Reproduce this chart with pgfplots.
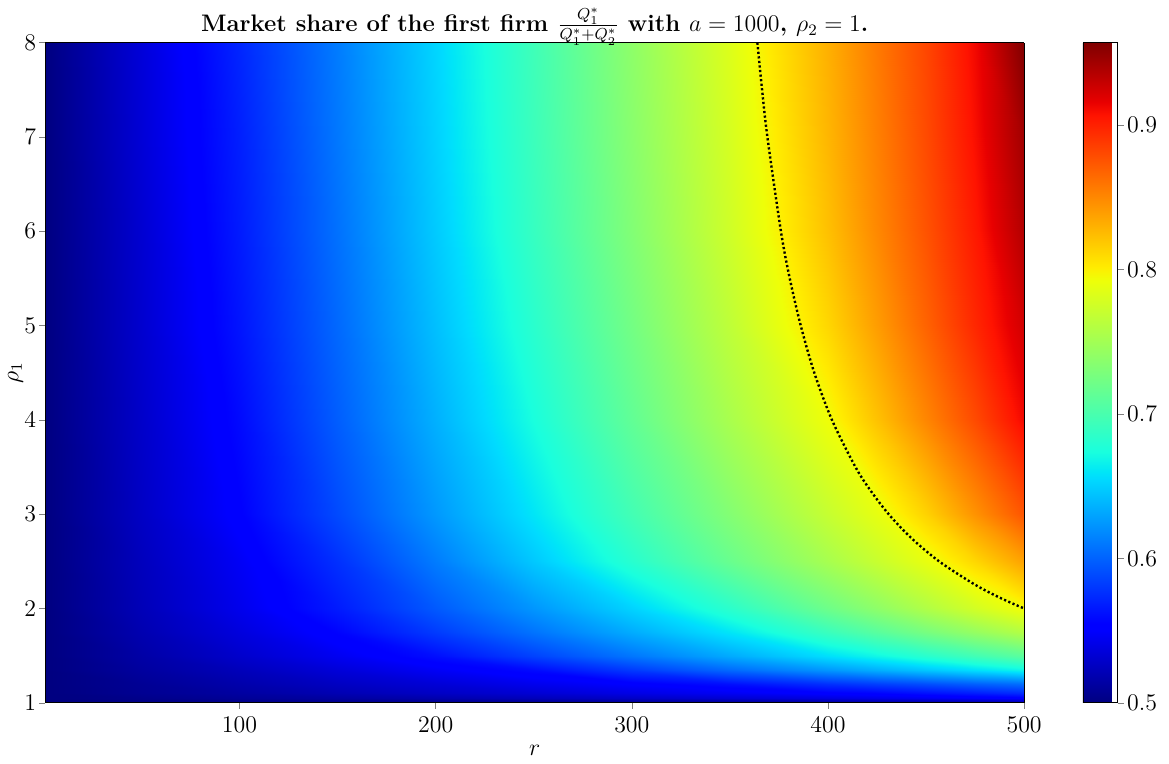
\documentclass[12pt,border=0pt]{standalone}
\usepackage{pgfplots}
\pgfplotsset{compat=1.18}
\begin{document}
\begin{tikzpicture}
\begin{axis}[
  view={0}{90},
  scale only axis, width=491.5pt, height=331.5pt,
  xmin=1, xmax=500, ymin=1, ymax=8,
  xtick={100,200,300,400,500}, ytick={1,2,3,4,5,6,7,8},
  tick pos=left, tick align=outside, major tick length=3pt,
  xlabel={$r$}, ylabel={$\rho_1$},
  ylabel shift=-5pt, xlabel shift=-2pt,
  yticklabel style={inner xsep=1.5pt},
  title={\textbf{Market share of the first firm $\frac{Q_1^*}{Q_1^*+Q_2^*}$ with $a=1000$, $\rho_2=1$.}},
  title style={yshift=-11.5pt},
  colormap={mjet}{rgb255(0pt)=(0,0,128); rgb255(11pt)=(0,0,255); rgb255(12pt)=(0,0,255); rgb255(34pt)=(0,219,255); rgb255(35pt)=(0,230,247); rgb255(38pt)=(25,255,222); rgb255(64pt)=(238,255,8); rgb255(66pt)=(255,236,0); rgb255(89pt)=(255,19,0); rgb255(91pt)=(232,0,0); rgb255(100pt)=(128,0,0)},
  colorbar, point meta min=0.5, point meta max=0.957,
  colorbar style={scale only axis, width=17.5pt, height=331.5pt,
    at={(parent axis.north east)}, anchor=north west, xshift=21pt,
    ytick={0.5,0.6,0.7,0.8,0.9}, yticklabel pos=right, ytick pos=right,
    tick align=outside, major tick length=3pt,
    yticklabel style={/pgf/number format/fixed, /pgf/number format/precision=1, inner xsep=1.5pt}},
  axis on top,
]
\addplot3[surf, shader=interp, mesh/cols=13, point meta=\thisrow{v}] table[x=r, y=p, z=v] {
r p v
1 1 0.500
50 1 0.500
100 1 0.500
150 1 0.500
200 1 0.500
250 1 0.500
300 1 0.500
350 1 0.500
400 1 0.500
425 1 0.500
450 1 0.500
475 1 0.500
500 1 0.500
1 1.02 0.500
50 1.02 0.502
100 1.02 0.504
150 1.02 0.506
200 1.02 0.508
250 1.02 0.510
300 1.02 0.513
350 1.02 0.515
400 1.02 0.518
425 1.02 0.520
450 1.02 0.522
475 1.02 0.524
500 1.02 0.527
1 1.05 0.500
50 1.05 0.504
100 1.05 0.509
150 1.05 0.513
200 1.05 0.518
250 1.05 0.523
300 1.05 0.528
350 1.05 0.533
400 1.05 0.538
425 1.05 0.541
450 1.05 0.544
475 1.05 0.548
500 1.05 0.552
1 1.1 0.500
50 1.1 0.507
100 1.1 0.513
150 1.1 0.520
200 1.1 0.527
250 1.1 0.533
300 1.1 0.540
350 1.1 0.546
400 1.1 0.553
425 1.1 0.556
450 1.1 0.562
475 1.1 0.568
500 1.1 0.575
1 1.2 0.500
50 1.2 0.508
100 1.2 0.517
150 1.2 0.526
200 1.2 0.534
250 1.2 0.543
300 1.2 0.551
350 1.2 0.561
400 1.2 0.576
425 1.2 0.583
450 1.2 0.590
475 1.2 0.598
500 1.2 0.605
1 1.35 0.500
50 1.35 0.512
100 1.35 0.523
150 1.35 0.535
200 1.35 0.547
250 1.35 0.559
300 1.35 0.581
350 1.35 0.603
400 1.35 0.624
425 1.35 0.635
450 1.35 0.646
475 1.35 0.657
500 1.35 0.668
1 1.5 0.500
50 1.5 0.515
100 1.5 0.530
150 1.5 0.545
200 1.5 0.561
250 1.5 0.585
300 1.5 0.609
350 1.5 0.633
400 1.5 0.657
425 1.5 0.669
450 1.5 0.682
475 1.5 0.696
500 1.5 0.710
1 1.75 0.500
50 1.75 0.519
100 1.75 0.537
150 1.75 0.556
200 1.75 0.582
250 1.75 0.608
300 1.75 0.634
350 1.75 0.660
400 1.75 0.692
425 1.75 0.709
450 1.75 0.726
475 1.75 0.743
500 1.75 0.760
1 2 0.500
50 2 0.522
100 2 0.543
150 2 0.567
200 2 0.596
250 2 0.624
300 2 0.652
350 2 0.684
400 2 0.721
425 2 0.739
450 2 0.758
475 2 0.777
500 2 0.795
1 2.5 0.500
50 2.5 0.524
100 2.5 0.547
150 2.5 0.577
200 2.5 0.612
250 2.5 0.647
300 2.5 0.682
350 2.5 0.718
400 2.5 0.753
425 2.5 0.771
450 2.5 0.789
475 2.5 0.812
500 2.5 0.838
1 3 0.500
50 3 0.527
100 3 0.554
150 3 0.589
200 3 0.625
250 3 0.660
300 3 0.697
350 3 0.733
400 3 0.770
425 3 0.788
450 3 0.814
475 3 0.845
500 3 0.875
1 4 0.500
50 4 0.529
100 4 0.559
150 4 0.598
200 4 0.636
250 4 0.674
300 4 0.714
350 4 0.754
400 4 0.793
425 4 0.822
450 4 0.851
475 4 0.880
500 4 0.912
1 5 0.500
50 5 0.531
100 5 0.564
150 5 0.603
200 5 0.643
250 5 0.683
300 5 0.724
350 5 0.766
400 5 0.812
425 5 0.840
450 5 0.868
475 5 0.897
500 5 0.925
1 6 0.500
50 6 0.532
100 6 0.567
150 6 0.607
200 6 0.648
250 6 0.690
300 6 0.732
350 6 0.775
400 6 0.823
425 6 0.850
450 6 0.876
475 6 0.904
500 6 0.937
1 7 0.500
50 7 0.534
100 7 0.569
150 7 0.610
200 7 0.651
250 7 0.693
300 7 0.736
350 7 0.779
400 7 0.828
425 7 0.854
450 7 0.880
475 7 0.909
500 7 0.944
1 8 0.500
50 8 0.535
100 8 0.572
150 8 0.612
200 8 0.653
250 8 0.695
300 8 0.739
350 8 0.783
400 8 0.831
425 8 0.857
450 8 0.882
475 8 0.912
500 8 0.957
};
\addplot3[black, line width=1.2pt, dash pattern=on 1.1pt off 1.2pt, smooth] coordinates {
(364.0,8,1) (366.4,7.5,1) (369.1,7,1) (376.0,6,1) (380.5,5.5,1) (386.1,5,1) (393.0,4.5,1) (402.0,4,1) (414.0,3.5,1) (421.7,3.25,1) (430.9,3,1) (442.3,2.75,1) (456.6,2.5,1) (475.1,2.25,1) (489.0,2.1,1) (500.0,2.0,1)
};
\end{axis}
\path ([xshift=4.5pt]current bounding box.east);
\end{tikzpicture}
\end{document}
